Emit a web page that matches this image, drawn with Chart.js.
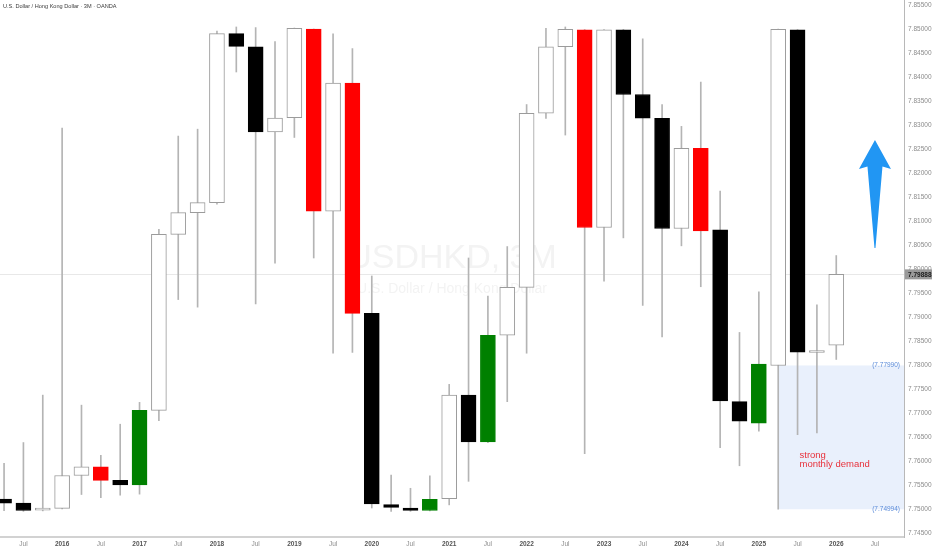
<!DOCTYPE html>
<html>
<head>
<meta charset="utf-8">
<script src="https://cdn.jsdelivr.net/npm/chart.js@4.4.1/dist/chart.umd.min.js"></script>
<style>
  html, body { margin: 0; padding: 0; background: #fff; }
  #wrap { position: relative; width: 932px; height: 550px; }
  #title { position: absolute; left: 3px; top: 3px; font: 5.6px "Liberation Sans", Arial, sans-serif; color: #3a3a3a; }
</style>
</head>
<body>
<div id="wrap">
  <canvas id="chart" width="932" height="550"></canvas>
  <div id="title">U.S. Dollar / Hong Kong Dollar · 3M · OANDA</div>
</div>
<script>
// quarterly candles, index 0 = Q2 2015
const openPrices = [7.75208, 7.75121, 7.74975, 7.75013, 7.75698, 7.75878, 7.75597, 7.75503, 7.77055, 7.80720,
  7.81174, 7.81384, 7.84905, 7.84630, 7.82856, 7.83151, 7.84998, 7.81203, 7.83873, 7.79075,
  7.75092, 7.75020, 7.74969, 7.75215, 7.77372, 7.76398, 7.78620, 7.79616, 7.83245, 7.84630,
  7.84984, 7.80864, 7.84984, 7.83635, 7.83137, 7.80843, 7.82516, 7.80814, 7.77235, 7.76788,
  7.77990, 7.84984, 7.78260, 7.78411];
const highPrices = [7.75951, 7.76384, 7.77372, 7.82935, 7.77163, 7.76117, 7.76766, 7.77221, 7.80828, 7.82769,
  7.82913, 7.84955, 7.85042, 7.85027, 7.84739, 7.85020, 7.85000, 7.84897, 7.84594, 7.79854,
  7.75705, 7.75431, 7.75691, 7.77596, 7.80229, 7.79436, 7.80467, 7.83426, 7.85013, 7.85042,
  7.84990, 7.84990, 7.84990, 7.84796, 7.83426, 7.82971, 7.83894, 7.81622, 7.78678, 7.79522,
  7.85000, 7.84990, 7.79255, 7.80280];
const lowPrices = [7.74962, 7.74950, 7.74960, 7.75000, 7.75301, 7.75236, 7.75287, 7.75309, 7.76838, 7.79363,
  7.79205, 7.81348, 7.84104, 7.79270, 7.80121, 7.82740, 7.80229, 7.78245, 7.78259, 7.75020,
  7.74948, 7.74950, 7.74960, 7.75085, 7.75576, 7.76380, 7.77235, 7.78245, 7.83137, 7.82790,
  7.76153, 7.79746, 7.80648, 7.79241, 7.78584, 7.80482, 7.79630, 7.76275, 7.75900, 7.76622,
  7.74994, 7.76550, 7.76586, 7.78115];
const closePrices = [7.75121, 7.74969, 7.75020, 7.75698, 7.75878, 7.75597, 7.75503, 7.77055, 7.80720, 7.81174,
  7.81384, 7.84905, 7.84638, 7.82856, 7.83144, 7.85013, 7.81203, 7.83873, 7.79075, 7.75107,
  7.75034, 7.74969, 7.75200, 7.77372, 7.76398, 7.78620, 7.79616, 7.83245, 7.84630, 7.84991,
  7.80864, 7.84984, 7.83635, 7.83144, 7.80843, 7.82516, 7.80792, 7.77249, 7.76831, 7.78021,
  7.84991, 7.78267, 7.78270, 7.79888];

// candles the author painted by hand
const redBars = [5, 16, 18, 30, 36];
const greenBars = [7, 22, 25, 39];

// x tick labels, one every other quarter starting at Q3 2015
const xTickLabels = ["Jul", "2016", "Jul", "2017", "Jul", "2018", "Jul", "2019", "Jul", "2020", "Jul", "2021",
  "Jul", "2022", "Jul", "2023", "Jul", "2024", "Jul", "2025", "Jul", "2026", "Jul"];

const lastPrice = 7.79888;
const demandStart = 40;          // candle the zone starts from
const demandTop = 7.77990;
const demandBottom = 7.74994;
const noteText = ["strong", "monthly demand"];
const noteAt = { x: 41.1, y: 7.76125 };
const arrowAt = { x: 45, tip: 7.82687, tail: 7.80437 };

const xMin = -0.21, xMax = 46.5;
const yMin = 7.74416, yMax = 7.85604;

const C = {
  up: "#ffffff",
  upBorder: "#9b9b9b",
  down: "#000000",
  red: "#ff0000",
  green: "#008000",
  wick: "#b4b4b4",
  axis: "#8b8b8b",
  zone: "rgba(41, 110, 230, 0.10)",
  zoneText: "#5b8bd9",
  note: "#e8313b",
  arrow: "#2196f3",
};

function bodyColor(i) {
  if (redBars.includes(i)) return C.red;
  if (greenBars.includes(i)) return C.green;
  return closePrices[i] >= openPrices[i] ? C.up : C.down;
}

const wickData = highPrices.map((h, i) => ({ x: i, y: [lowPrices[i], h] }));
const bodyData = openPrices.map((o, i) => ({
  x: i,
  y: [Math.min(o, closePrices[i]), Math.max(o, closePrices[i])],
}));
const fills = openPrices.map((_, i) => bodyColor(i));
const borders = fills.map((f) => (f === C.up ? C.upBorder : f));

function noPadding(s) {
  s.paddingTop = 0;
  s.paddingBottom = 0;
  s.paddingLeft = 0;
  s.paddingRight = 0;
}

const overlays = {
  id: "overlays",
  beforeDatasetsDraw(chart) {
    const { ctx, chartArea: a, scales: { x, y } } = chart;
    ctx.save();
    // watermark
    const cx = (a.left + a.right) / 2;
    const cy = (a.top + a.bottom) / 2;
    ctx.fillStyle = "#f3f3f3";
    ctx.textAlign = "center";
    ctx.textBaseline = "alphabetic";
    ctx.font = "34px 'Liberation Sans', Arial, sans-serif";
    ctx.fillText("USDHKD, 3M", cx, cy - 1);
    ctx.textBaseline = "middle";
    ctx.font = "14px 'Liberation Sans', Arial, sans-serif";
    ctx.fillText("U.S. Dollar / Hong Kong Dollar", cx, cy + 21);

    // last price line
    const py = Math.round(y.getPixelForValue(lastPrice)) + 0.5;
    ctx.strokeStyle = "#e8e8e8";
    ctx.lineWidth = 1;
    ctx.beginPath();
    ctx.moveTo(a.left, py);
    ctx.lineTo(a.right, py);
    ctx.stroke();

    // demand zone
    const zx = x.getPixelForValue(demandStart);
    const zt = y.getPixelForValue(demandTop);
    const zb = y.getPixelForValue(demandBottom);
    ctx.fillStyle = C.zone;
    ctx.fillRect(zx, zt, a.right - zx, zb - zt);
    ctx.restore();
  },
  afterDatasetsDraw(chart) {
    const { ctx, chartArea: a, scales: { x, y } } = chart;
    ctx.save();
    // zone price labels
    ctx.fillStyle = C.zoneText;
    ctx.font = "6.5px 'Liberation Sans', Arial, sans-serif";
    ctx.textAlign = "right";
    ctx.textBaseline = "middle";
    ctx.fillText("(" + demandTop.toFixed(5) + ")", a.right - 4, y.getPixelForValue(demandTop));
    ctx.fillText("(" + demandBottom.toFixed(5) + ")", a.right - 4, y.getPixelForValue(demandBottom));

    // note
    ctx.fillStyle = C.note;
    ctx.font = "9.5px 'Liberation Sans', Arial, sans-serif";
    ctx.textAlign = "left";
    const nx = x.getPixelForValue(noteAt.x);
    const ny = y.getPixelForValue(noteAt.y);
    noteText.forEach((t, i) => ctx.fillText(t, nx, ny + i * 9.5));

    // arrow
    const ax = x.getPixelForValue(arrowAt.x);
    const ty = y.getPixelForValue(arrowAt.tip);
    const by = y.getPixelForValue(arrowAt.tail);
    ctx.fillStyle = C.arrow;
    ctx.beginPath();
    ctx.moveTo(ax, ty);
    ctx.lineTo(ax + 16, ty + 29);
    ctx.lineTo(ax + 7.5, ty + 26.5);
    ctx.lineTo(ax + 0.5, by);
    ctx.lineTo(ax - 0.5, by);
    ctx.lineTo(ax - 7.5, ty + 26.5);
    ctx.lineTo(ax - 16, ty + 29);
    ctx.closePath();
    ctx.fill();
    ctx.restore();
  },
  afterDraw(chart) {
    const { ctx, chartArea: a, scales: { y } } = chart;
    const py = y.getPixelForValue(lastPrice);
    ctx.save();
    ctx.fillStyle = "#9a9a9a";
    ctx.fillRect(a.right + 1, py - 5, chart.width - a.right - 1, 10);
    ctx.fillStyle = "#1c1c1c";
    ctx.font = "bold 6.5px 'Liberation Sans', Arial, sans-serif";
    ctx.textAlign = "left";
    ctx.textBaseline = "middle";
    ctx.fillText(lastPrice.toFixed(5), a.right + 4, py + 0.5);
    ctx.restore();
  },
};

new Chart(document.getElementById("chart"), {
  type: "bar",
  data: {
    datasets: [
      {
        label: "wick",
        data: wickData,
        backgroundColor: C.wick,
        barThickness: 1,
        grouped: false,
        order: 2,
      },
      {
        label: "body",
        data: bodyData,
        backgroundColor: fills,
        borderColor: borders,
        borderWidth: 1,
        borderSkipped: false,
        barThickness: 15,
        minBarLength: 2,
        grouped: false,
        order: 1,
      },
    ],
  },
  options: {
    responsive: false,
    animation: false,
    layout: { padding: 0, autoPadding: false },
    plugins: { legend: { display: false }, tooltip: { enabled: false } },
    scales: {
      x: {
        type: "linear",
        min: xMin,
        max: xMax,
        offset: false,
        grid: { display: false, drawTicks: false },
        border: { display: true, color: "#d2d2d2", width: 2 },
        afterBuildTicks: (s) => {
          s.ticks = xTickLabels.map((_, k) => ({ value: 1 + 2 * k }));
        },
        afterFit: (s) => { s.height = 13; noPadding(s); },
        ticks: {
          autoSkip: false,
          maxRotation: 0,
          padding: 3,
          callback: (v) => xTickLabels[(v - 1) / 2],
          font: (c) => ({
            family: "'Liberation Sans', Arial, sans-serif",
            size: 6.5,
            weight: c.tick && c.tick.label !== "Jul" ? "bold" : "normal",
          }),
          color: (c) => (c.tick && c.tick.label !== "Jul" ? "#555555" : "#8d8d8d"),
        },
      },
      y: {
        position: "right",
        min: yMin,
        max: yMax,
        grid: { display: false, drawTicks: false },
        border: { display: true, color: "#b8b8b8", width: 1 },
        afterFit: (s) => { s.width = 28; noPadding(s); },
        ticks: {
          stepSize: 0.005,
          includeBounds: false,
          padding: 4,
          color: C.axis,
          font: { family: "'Liberation Sans', Arial, sans-serif", size: 6.5 },
          callback: (v) => v.toFixed(5),
        },
      },
    },
  },
  plugins: [overlays],
});
</script>
</body>
</html>
